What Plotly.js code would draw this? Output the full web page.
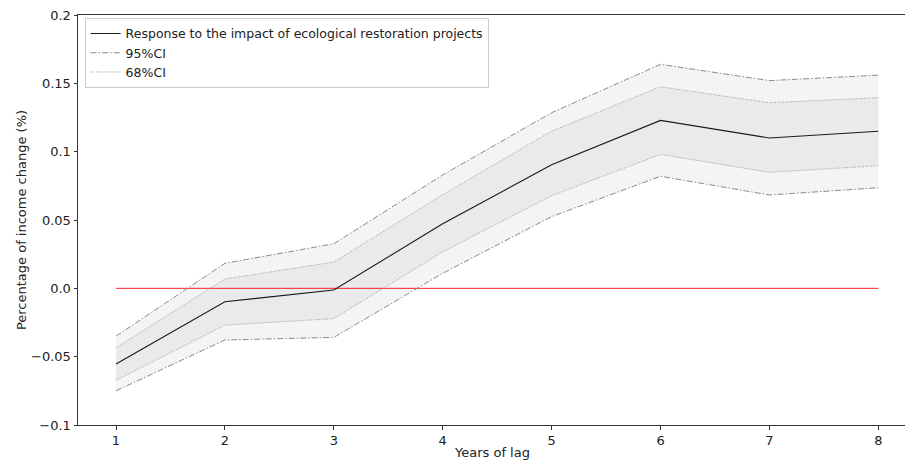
<!DOCTYPE html>
<html>
<head>
<meta charset="utf-8">
<script src="https://cdn.plot.ly/plotly-3.0.1.min.js"></script>
<style>html,body{margin:0;padding:0;background:#fff;}#chart{width:905px;height:461px;}</style>
</head>
<body>
<div id="chart"></div>
<script>
// Data
const years = [1, 2, 3, 4, 5, 6, 7, 8];
const response = [-0.0554, -0.0098, -0.0012, 0.0472, 0.0905, 0.1229, 0.1100, 0.1149];
const upper95 = [-0.0350, 0.0183, 0.0326, 0.0830, 0.1285, 0.1639, 0.1520, 0.1560];
const lower95 = [-0.0750, -0.0378, -0.0359, 0.0110, 0.0525, 0.0820, 0.0683, 0.0736];
const upper68 = [-0.0435, 0.0068, 0.0192, 0.0685, 0.1150, 0.1475, 0.1358, 0.1395];
const lower68 = [-0.0673, -0.0269, -0.0222, 0.0267, 0.0678, 0.0980, 0.0849, 0.0897];
const zeroLine = [0, 0, 0, 0, 0, 0, 0, 0];
const yTickVals = [-0.1, -0.05, 0.0, 0.05, 0.1, 0.15, 0.2];
const yTickText = ["\u22120.1", "\u22120.05", "0.0", "0.05", "0.1", "0.15", "0.2"];
const xTickVals = [1, 2, 3, 4, 5, 6, 7, 8];
const xTitle = 'Years of lag';
const yTitle = 'Percentage of income change (%)';

const ciGray95 = '#8a8a8a';
const ciGray68 = '#a0a0a0';
const dash95 = '6px,2px,1.5px,2px';
const dash68 = '1.2px,1.5px';

const traces = [
  // shaded bands (no legend)
  {x: years, y: lower95, type: 'scatter', mode: 'lines', line: {width: 0, color: 'rgba(0,0,0,0)'}, showlegend: false, hoverinfo: 'skip'},
  {x: years, y: upper95, type: 'scatter', mode: 'lines', fill: 'tonexty', fillcolor: '#f4f4f4', line: {width: 0, color: 'rgba(0,0,0,0)'}, showlegend: false, hoverinfo: 'skip'},
  {x: years, y: lower68, type: 'scatter', mode: 'lines', line: {width: 0, color: 'rgba(0,0,0,0)'}, showlegend: false, hoverinfo: 'skip'},
  {x: years, y: upper68, type: 'scatter', mode: 'lines', fill: 'tonexty', fillcolor: '#eaeaea', line: {width: 0, color: 'rgba(0,0,0,0)'}, showlegend: false, hoverinfo: 'skip'},
  // zero reference line
  {x: years, y: zeroLine, type: 'scatter', mode: 'lines', line: {color: '#ff2020', width: 1}, showlegend: false, hoverinfo: 'skip'},
  // boundary lines
  {x: years, y: upper95, type: 'scatter', mode: 'lines', name: '95%CI', line: {color: ciGray95, width: 1, dash: dash95}, showlegend: true, legendrank: 2},
  {x: years, y: lower95, type: 'scatter', mode: 'lines', name: '95%CI', line: {color: ciGray95, width: 1, dash: dash95}, showlegend: false},
  {x: years, y: upper68, type: 'scatter', mode: 'lines', name: '68%CI', line: {color: ciGray68, width: 1, dash: dash68}, showlegend: true, legendrank: 3},
  {x: years, y: lower68, type: 'scatter', mode: 'lines', name: '68%CI', line: {color: ciGray68, width: 1, dash: dash68}, showlegend: false},
  {x: years, y: response, type: 'scatter', mode: 'lines', name: 'Response to the impact of ecological restoration projects', line: {color: '#1a1a1a', width: 1.1}, showlegend: true, legendrank: 1}
];

const txtFont = {family: 'DejaVu Sans, sans-serif', size: 13, color: '#222'};

const layout = {
  width: 905,
  height: 461,
  margin: {l: 78, r: 0, t: 15, b: 36},
  paper_bgcolor: '#ffffff',
  plot_bgcolor: '#ffffff',
  font: txtFont,
  showlegend: true,
  legend: {
    x: 0.008, y: 0.993, xanchor: 'left', yanchor: 'top',
    traceorder: 'normal',
    bgcolor: '#ffffff', bordercolor: '#cccccc', borderwidth: 1,
    font: {family: 'DejaVu Sans, sans-serif', size: 12.5, color: '#222'},
    tracegroupgap: 0, itemwidth: 30
  },
  xaxis: {
    range: [0.651, 8.245],
    tickvals: xTickVals,
    ticktext: xTickVals.map(String),
    ticks: 'outside', ticklen: 3.5, tickwidth: 1, tickcolor: '#333',
    showgrid: false, zeroline: false,
    showline: true, linecolor: '#333', linewidth: 1, mirror: true,
    tickfont: txtFont,
    automargin: false
  },
  yaxis: {
    range: [-0.1, 0.2],
    tickvals: yTickVals,
    ticktext: yTickText,
    ticks: 'outside', ticklen: 3.5, tickwidth: 1, tickcolor: '#333',
    showgrid: false, zeroline: false,
    showline: true, linecolor: '#333', linewidth: 1, mirror: false,
    tickfont: txtFont,
    title: {text: yTitle, standoff: 1, font: txtFont},
    automargin: false
  },
  annotations: [
    {text: xTitle, xref: 'paper', yref: 'paper', x: 0.5, y: -0.0659, xanchor: 'center', yanchor: 'middle', showarrow: false, font: txtFont}
  ]
};

Plotly.newPlot('chart', traces, layout, {staticPlot: true, displayModeBar: false});
</script>
</body>
</html>
